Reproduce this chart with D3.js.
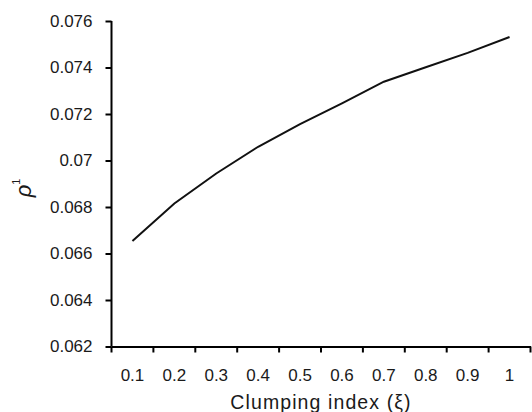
<!DOCTYPE html>
<html>
<head>
<meta charset="utf-8">
<script src="https://cdn.jsdelivr.net/npm/d3@7"></script>
<style>
  body { margin: 0; background: #fff; }
  text { font-family: "Liberation Sans", Arial, sans-serif; fill: #1a1a1a; }
</style>
</head>
<body>
<div id="chart-area"></div>
<script>
const categories = ["0.1", "0.2", "0.3", "0.4", "0.5", "0.6", "0.7", "0.8", "0.9", "1"];
const rhoValues = [0.06654, 0.06815, 0.06944, 0.07059, 0.07156, 0.07246, 0.07339, 0.07401, 0.07463, 0.07531];
const yTicks = [0.062, 0.064, 0.066, 0.068, 0.07, 0.072, 0.074, 0.076];

const width = 532, height = 412;
const margin = { top: 21, right: 1.5, bottom: 65.5, left: 111.5 };

const svg = d3.select('#chart-area')
    .append('svg')
    .attr('width', width)
    .attr('height', height);

const x = d3.scaleBand()
    .domain(categories)
    .range([margin.left, width - margin.right]);

const y = d3.scaleLinear()
    .domain([0.062, 0.076])
    .range([height - margin.bottom, margin.top]);

// y axis
const yAxis = svg.append("g")
    .attr("transform", "translate(" + margin.left + ",0)")
    .call(d3.axisLeft(y).tickValues(yTicks).tickSize(6).tickPadding(13)
        .tickFormat(d => String(+d.toFixed(3))));
yAxis.select(".domain").attr("stroke-width", 2).attr("d",
    "M0," + y(0.076) + "V" + y(0.062));
yAxis.selectAll(".tick line").attr("stroke-width", 2);
yAxis.selectAll("text").style("font-size", "17px");

// x axis - labels at centres, ticks at category boundaries (excel style)
const xAxis = svg.append("g")
    .attr("transform", "translate(0," + y(0.062) + ")")
    .call(d3.axisBottom(x).tickSize(0).tickPadding(22));
xAxis.select(".domain").attr("stroke-width", 2);
xAxis.selectAll("text").style("font-size", "17px");

const bounds = categories.map(c => x(c)).concat([x.range()[1]]);
xAxis.selectAll(".bound")
    .data(bounds)
    .join("line")
    .attr("class", "bound")
    .attr("x1", d => d)
    .attr("x2", d => d)
    .attr("y1", 0)
    .attr("y2", 6)
    .attr("stroke", "#000")
    .attr("stroke-width", 2);

// the curve
const line = d3.line()
    .x((d, i) => x(categories[i]) + x.bandwidth() / 2)
    .y(d => y(d));

svg.append("path")
    .datum(rhoValues)
    .attr("fill", "none")
    .attr("stroke", "#111")
    .attr("stroke-width", 2)
    .attr("d", line);

// axis titles
svg.append("text")
    .attr("x", (x.range()[0] + x.range()[1]) / 2)
    .attr("y", 409)
    .attr("text-anchor", "middle")
    .style("font-size", "19.5px")
    .style("letter-spacing", "1.1px")
    .text("Clumping index (ξ)");

const yTitle = svg.append("text")
    .attr("transform", "translate(31,188) rotate(-90)")
    .attr("text-anchor", "middle")
    .style("font-size", "22px");
yTitle.append("tspan").style("font-style", "italic").text("ρ");
yTitle.append("tspan").attr("dy", -11).style("font-size", "11px").text("1");
</script>
</body>
</html>
